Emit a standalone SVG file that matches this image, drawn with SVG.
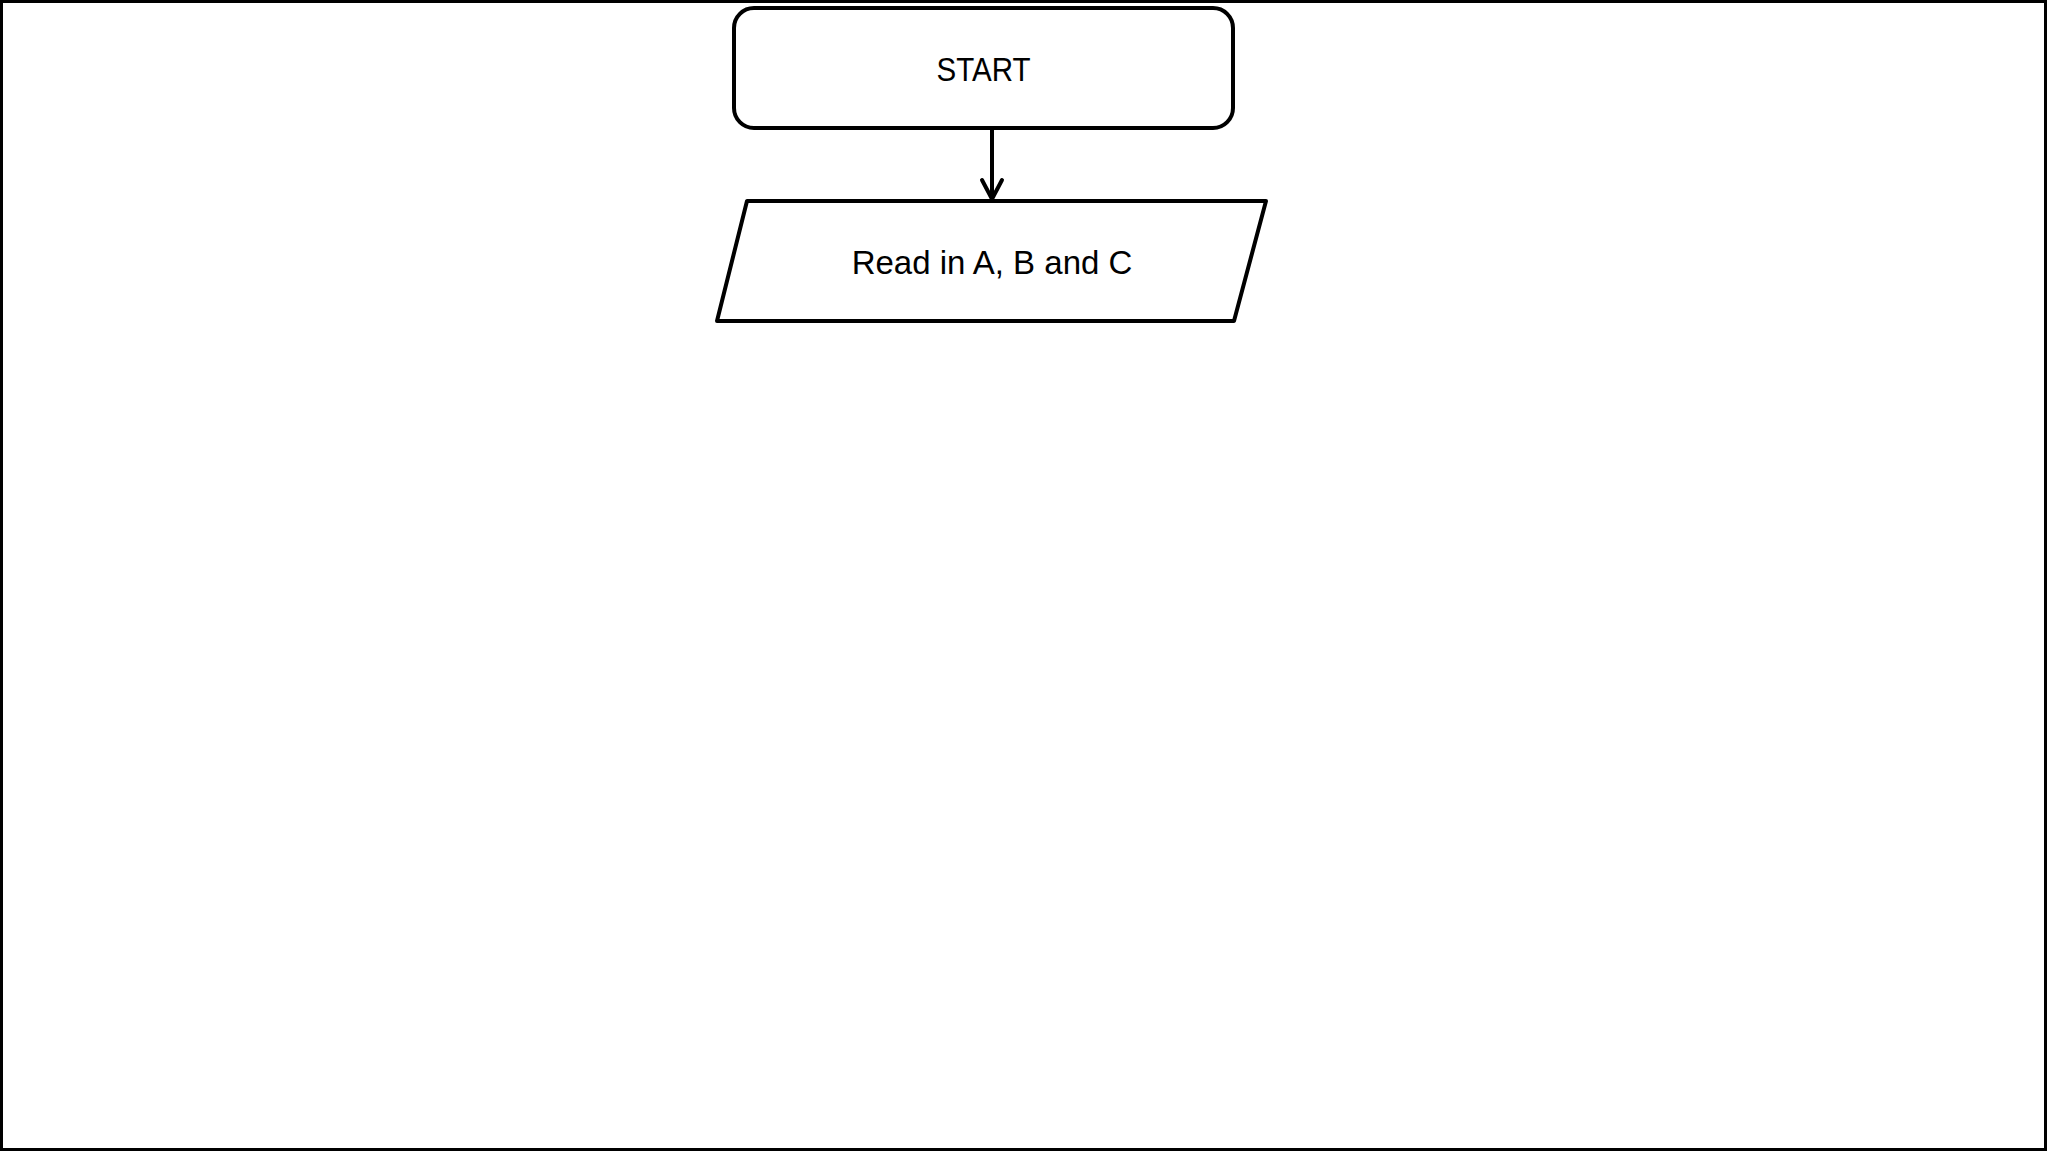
<svg xmlns="http://www.w3.org/2000/svg" width="2048" height="1152" viewBox="0 0 2048 1152">
<style>
.shape{fill:#fff;stroke:#000;stroke-width:4;stroke-linejoin:round}
.lbl{font-family:"Liberation Sans",Arial,sans-serif;font-size:33px;fill:#000;text-anchor:middle}
.conn{fill:none;stroke:#000;stroke-width:4}
</style>
<defs>
<marker id="arr" markerUnits="userSpaceOnUse" markerWidth="30" markerHeight="30" viewBox="0 0 30 30" refX="25" refY="15" orient="auto">
<path d="M6,5 L25,15 L6,25" fill="none" stroke="#000" stroke-width="4" stroke-linecap="round" stroke-linejoin="round"/>
</marker>
</defs>
<rect x="0" y="0" width="2048" height="1152" fill="#fff"/>
<rect x="1.5" y="1.5" width="2044" height="1148" fill="none" stroke="#000" stroke-width="3"/>
<g id="start">
<rect class="shape" x="734" y="8" width="499" height="120" rx="20" ry="20"/>
<text class="lbl" x="983.5" y="81" textLength="94" lengthAdjust="spacingAndGlyphs">START</text>
</g>
<g id="read">
<polygon class="shape" points="747,201 1266,201 1234,321 717,321"/>
<text class="lbl" x="992" y="274">Read in A, B and C</text>
</g>
<g id="connectors">
<line class="conn" x1="992" y1="128" x2="992" y2="199" marker-end="url(#arr)"/>
</g>
</svg>
